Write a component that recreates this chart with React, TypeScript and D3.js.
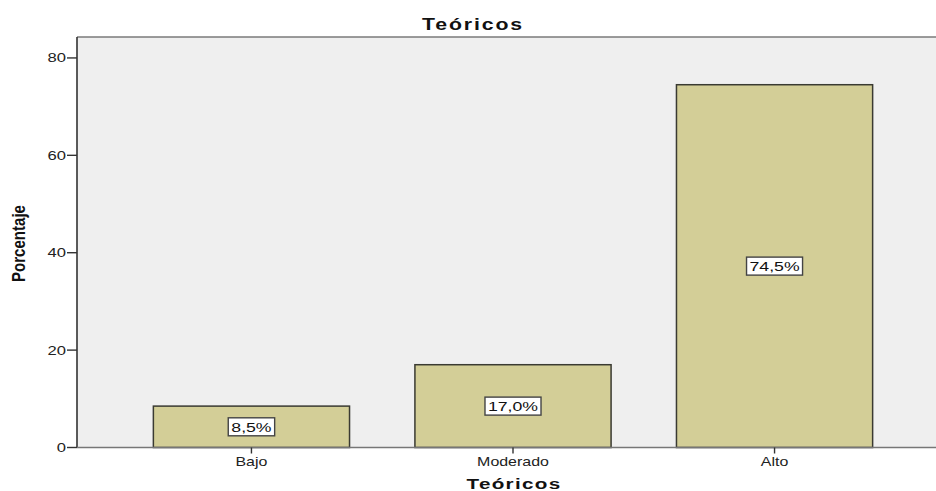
import React from 'react';
import * as d3 from 'd3';

// valores
const categorias = ['Bajo', 'Moderado', 'Alto'];
const porcentajes = [8.5, 17.0, 74.5];
const yTicks = [0, 20, 40, 60, 80];

const W = 936;
const H = 491;
const plot = { left: 77, right: 949, top: 37, bottom: 447.5 };
const SX = 1.33; // el original está estirado en horizontal
const FONT = '"Liberation Sans", Arial, sans-serif';

// ancho aprox. de Arial por carácter (em)
const anchoEm = (s: string) =>
  s.split('').reduce((a, c) => a + (c === ',' ? 0.278 : c === '%' ? 0.889 : 0.556), 0);

const App: React.FC = () => {
  const x = d3.scaleBand<string>()
    .domain(categorias)
    .range([plot.left, plot.right])
    .paddingInner(0.25)
    .paddingOuter(0.292);

  const y = d3.scaleLinear().domain([0, 84.3]).range([plot.bottom, plot.top]);

  const fmt = (v: number) => v.toFixed(1).replace('.', ',') + '%';

  return (
    <svg width={W} height={H} style={{ position: 'absolute', left: 0, top: 0, background: '#fff' }}
      fontFamily={FONT}>
      {/* fondo del área */}
      <rect x={plot.left} y={plot.top} width={plot.right - plot.left} height={plot.bottom - plot.top}
        fill="#efefef" />
      <line x1={plot.left} x2={W} y1={plot.top} y2={plot.top} stroke="#7a7a7a" strokeWidth={1.6} />

      {/* barras */}
      {porcentajes.map((v, i) => (
        <rect key={categorias[i]} x={x(categorias[i])} y={y(v)} width={x.bandwidth()}
          height={y(0) - y(v)} fill="#d3ce97" stroke="#3a3a32" strokeWidth={1.5} />
      ))}

      {/* etiquetas de valor */}
      {porcentajes.map((v, i) => {
        const cx = (x(categorias[i]) as number) + x.bandwidth() / 2;
        const cy = (y(v) + y(0)) / 2;
        const t = fmt(v);
        const bw = anchoEm(t) * 13 * SX + 7;
        return (
          <g key={'l' + i}>
            <rect x={cx - bw / 2} y={cy - 9} width={bw} height={18} fill="#fff" stroke="#444" strokeWidth={1.4} />
            <text transform={`translate(${cx},${cy + 4.8}) scale(${SX},1)`} textAnchor="middle"
              fontSize={13.3} fill="#111">{t}</text>
          </g>
        );
      })}

      {/* eje Y */}
      <line x1={plot.left} x2={plot.left} y1={plot.top} y2={plot.bottom} stroke="#333" strokeWidth={1.6} />
      {yTicks.map(t => (
        <g key={t}>
          <line x1={plot.left - 10} x2={plot.left} y1={y(t)} y2={y(t)} stroke="#333" strokeWidth={1.4} />
          <text transform={`translate(${plot.left - 11},${y(t) + 4.5}) scale(${SX},1)`} textAnchor="end"
            fontSize={12.5} fill="#222">{t}</text>
        </g>
      ))}

      {/* eje X */}
      <line x1={plot.left} x2={W} y1={plot.bottom} y2={plot.bottom} stroke="#777" strokeWidth={1.6} />
      {categorias.map(c => {
        const cx = (x(c) as number) + x.bandwidth() / 2;
        return (
          <g key={c}>
            <line x1={cx} x2={cx} y1={plot.bottom} y2={plot.bottom + 6} stroke="#333" strokeWidth={1.4} />
            <text transform={`translate(${cx},465.6) scale(${SX},1)`} textAnchor="middle"
              fontSize={12} fill="#222">{c}</text>
          </g>
        );
      })}

      {/* títulos */}
      <text transform={`translate(473,30) scale(${SX},1)`} textAnchor="middle" fontSize={16}
        fontWeight="bold" letterSpacing={1.4} fill="#111">Teóricos</text>
      <text transform={`translate(514,489) scale(${SX},1)`} textAnchor="middle" fontSize={15.5}
        fontWeight="bold" letterSpacing={1.0} fill="#111">Teóricos</text>
      <text transform={`translate(25,243.5) scale(${SX},1) rotate(-90)`} textAnchor="middle"
        fontSize={14.5} fontWeight="bold" textLength={77} lengthAdjust="spacingAndGlyphs" fill="#111">Porcentaje</text>
    </svg>
  );
};

export default App;
